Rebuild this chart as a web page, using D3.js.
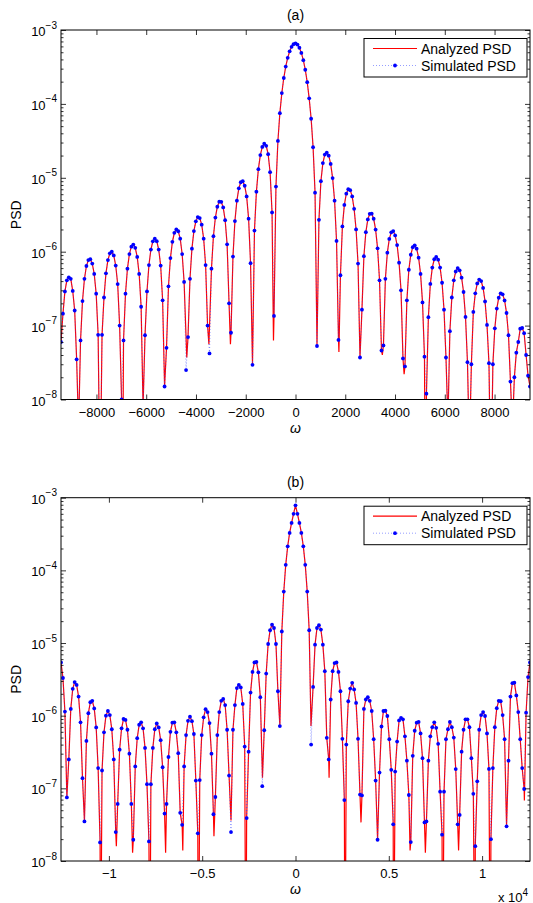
<!DOCTYPE html>
<html><head><meta charset="utf-8">
<script src="https://cdn.jsdelivr.net/npm/d3@7"></script>
<style>
body{margin:0;background:#fff}
svg{display:block}
text{font-family:'Liberation Sans',Arial,Helvetica,sans-serif;fill:#000}
</style>
</head><body>
<svg id="chart" width="533" height="903"></svg>
<script>
// ---------------- DATA ----------------
// sample index k runs from -120 to 120; omega = k * step
const halfRangeA = 3000 * Math.PI;          // panel (a) omega half-range
const halfRangeB = 4000 * Math.PI;          // panel (b) omega half-range
const samplesPerSide = 120;

// Simulated PSD, panel (a), k = -120 ... 120
const simulatedA = [
6e-8,1.45e-7,2.9e-7,4.1e-7,4.5e-7,4.3e-7,2.95e-7,1.6e-7,3.5e-8,4e-9,
6.3e-8,2.15e-7,4.3e-7,6.4e-7,7.7e-7,7.9e-7,6.9e-7,5.0e-7,2.7e-7,7.5e-8,
5e-10,7.5e-8,2.4e-7,5.1e-7,7.7e-7,9.5e-7,1.0e-6,8.9e-7,6.5e-7,3.65e-7,
1.0e-7,1.0e-8,6.3e-8,2.7e-7,5.9e-7,9.3e-7,1.17e-6,1.25e-6,1.13e-6,8.5e-7,
5.0e-7,1.8e-7,8e-9,7.4e-8,2.9e-7,6.6e-7,1.07e-6,1.38e-6,1.5e-6,1.39e-6,
1.07e-6,6.5e-7,2.2e-7,1.5e-8,5.0e-8,3.4e-7,8.2e-7,1.36e-6,1.8e-6,2.0e-6,
1.89e-6,1.5e-6,9.3e-7,3.9e-7,2.5e-8,7.0e-8,4.3e-7,1.1e-6,1.9e-6,2.58e-6,
2.94e-6,2.85e-6,2.32e-6,1.5e-6,6.6e-7,1.0e-7,4.2e-8,5.9e-7,1.62e-6,2.9e-6,
4.06e-6,4.75e-6,4.73e-6,3.97e-6,2.67e-6,1.26e-6,2.0e-7,8.0e-8,8.6e-7,2.6e-6,
4.9e-6,7.2e-6,8.7e-6,9.0e-6,7.8e-6,5.6e-6,2.8e-6,7.0e-7,2.95e-8,1.93e-6,
6.5e-6,1.31e-5,2.03e-5,2.62e-5,2.89e-5,2.71e-5,2.09e-5,1.19e-5,3.4e-6,1.35e-7,
7.6e-6,3.15e-5,7.5e-5,1.4e-4,2.24e-4,3.2e-4,4.2e-4,5.15e-4,5.92e-4,6.42e-4,
6.6e-4,
6.35e-4,5.75e-4,4.9e-4,3.9e-4,2.9e-4,1.97e-4,1.19e-4,6.3e-5,2.6e-5,6.3e-6,
5.3e-8,2.7e-6,9.0e-6,1.58e-5,2.06e-5,2.19e-5,1.99e-5,1.54e-5,9.9e-6,4.9e-6,
1.4e-6,6.4e-8,4.8e-7,2.2e-6,4.3e-6,6.1e-6,7.0e-6,6.8e-6,5.6e-6,3.8e-6,
2.0e-6,6.9e-7,3.7e-8,1.64e-7,8.7e-7,1.84e-6,2.73e-6,3.25e-6,3.27e-6,2.79e-6,
1.99e-6,1.11e-6,4.1e-7,4.6e-8,5.4e-8,4.3e-7,9.7e-7,1.49e-6,1.83e-6,1.9e-6,
1.66e-6,1.23e-6,7.1e-7,3.0e-7,3.6e-8,2.8e-8,2.2e-7,5.7e-7,9.1e-7,1.15e-6,
1.22e-6,1.1e-6,8.3e-7,5.0e-7,2.06e-7,3.8e-8,1.2e-8,1.3e-7,3.66e-7,6.1e-7,
7.9e-7,8.5e-7,7.8e-7,6.1e-7,3.8e-7,1.64e-7,3.7e-8,5e-9,8.4e-8,2.4e-7,
4.1e-7,5.4e-7,6.0e-7,5.6e-7,4.45e-7,2.85e-7,1.31e-7,3.2e-8,2e-9,3.0e-8,
1.53e-7,2.73e-7,3.72e-7,4.19e-7,4.0e-7,3.23e-7,2.12e-7,1.02e-7,3.1e-8,5e-10,
3.0e-8,9.2e-8,1.7e-7,2.38e-7,2.73e-7,2.65e-7,2.19e-7,1.48e-7,7.4e-8,1.75e-8,
4e-9,2.0e-8,4.3e-8,6.0e-8,9.1e-8,9.3e-8,7.9e-8,4.0e-8,2.1e-8,1.5e-8
];
// Analyzed PSD, panel (a): follows the samples, plus its null dips [omega, value]
const analyzedNullsA = [[-6960,1e-10],[-4370,3.7e-8],[-3480,5.6e-8],[-2615,5.6e-8],[-885,6.3e-8],
  [1745,4.4e-8],[3490,4.0e-8],[4365,2.2e-8],[5225,1e-10]];
// sample indices (k) where the simulated dot lies off the analyzed curve
const analyzedSkipA = [-56,-44];

// Simulated PSD, panel (b), k = -120 ... 120
const simulatedB = [
5.4e-6,3.3e-6,1.14e-6,7.5e-8,2.5e-7,1.24e-6,2.34e-6,2.9e-6,2.65e-6,1.83e-6,
8.1e-7,1.38e-7,3.5e-8,4.5e-7,1.08e-6,1.53e-6,1.6e-6,1.26e-6,6.9e-7,1.9e-7,
1.8e-8,1.76e-7,5.9e-7,1.0e-6,1.16e-6,1.02e-6,6.5e-7,2.5e-7,2.5e-8,6.1e-8,
3.4e-7,6.7e-7,9.0e-7,8.75e-7,6.4e-7,3.0e-7,6.1e-8,1.96e-8,2.0e-7,4.9e-7,
7.5e-7,8.1e-7,6.7e-7,3.6e-7,1.14e-7,1.86e-8,1.14e-7,3.6e-7,6.5e-7,7.8e-7,
6.9e-7,4.6e-7,1.95e-7,4.5e-8,6.1e-8,2.7e-7,6.0e-7,8.0e-7,8.1e-7,5.9e-7,
3.05e-7,4.6e-8,3.15e-8,2.0e-7,5.4e-7,8.5e-7,9.7e-7,8.4e-7,5.6e-7,1.28e-7,
2.4e-8,1.3e-7,5.4e-7,9.5e-7,1.23e-6,1.12e-6,7.9e-7,3.0e-7,4.4e-8,7.6e-8,
5.4e-7,1.12e-6,1.6e-6,1.7e-6,1.4e-6,6.4e-7,1.5e-7,2.5e-8,6.4e-7,1.4e-6,
2.4e-6,2.65e-6,2.45e-6,1.45e-6,3.76e-7,3.9e-8,3.2e-7,2.08e-6,4.0e-6,5.4e-6,
5.5e-6,3.95e-6,1.8e-6,1.07e-7,6.3e-7,3.8e-6,9.7e-6,1.5e-5,1.79e-5,1.61e-5,
9.7e-6,2.17e-6,7.2e-7,1.44e-5,5.1e-5,1.19e-4,2.14e-4,3.27e-4,4.49e-4,6.0e-4,
7.85e-4,
6.0e-4,4.49e-4,3.27e-4,2.14e-4,1.19e-4,5.1e-5,1.5e-5,4.0e-7,2.49e-6,9.5e-6,
1.61e-5,1.76e-5,1.53e-5,9.5e-6,4.1e-6,4.95e-7,2.5e-7,1.67e-6,4.1e-6,5.3e-6,
5.4e-6,4.0e-6,2.17e-6,4.8e-7,6.9e-8,4.0e-7,1.58e-6,2.36e-6,2.83e-6,2.3e-6,
1.5e-6,4.8e-7,8.2e-8,8.0e-8,1.24e-6,1.67e-6,1.8e-6,1.6e-6,1.16e-6,4.75e-7,
1.28e-7,1.96e-8,1.65e-7,7.1e-7,1.16e-6,1.17e-6,9.9e-7,4.75e-7,1.8e-7,3.2e-8,
1.7e-7,4.4e-7,8.6e-7,9.3e-7,8.9e-7,5.2e-7,2.4e-7,8.1e-8,1.82e-8,2.8e-7,
6.2e-7,8.0e-7,8.2e-7,5.7e-7,2.6e-7,3.4e-8,3.5e-8,2.4e-7,5.2e-7,6.95e-7,
8.1e-7,6.8e-7,4.1e-7,9.0e-8,2.3e-8,9.0e-8,4.75e-7,6.5e-7,8.2e-7,6.95e-7,
5.0e-7,1.84e-7,3.2e-8,4.3e-8,3.2e-7,6.4e-7,8.9e-7,8.9e-7,6.95e-7,2.6e-7,
8.4e-8,1.6e-8,1.25e-7,6.4e-7,1.02e-6,1.12e-6,9.9e-7,5.7e-7,1.85e-7,2.0e-8,
1.9e-7,6.95e-7,1.27e-6,1.6e-6,1.58e-6,1.02e-6,4.75e-7,3.0e-8,2.4e-7,1.83e-6,
2.8e-6,2.85e-6,1.9e-6,1.12e-6,4.75e-7,1.9e-7,9.8e-8,1.1e-6,3.4e-6,5.4e-6
];
const analyzedNullsB = [[-10450,1e-10],[-9600,1.6e-8],[-8730,1.3e-8],[-7810,1e-10],[-6960,1.3e-8],
  [-6040,1.4e-8],[-5200,1e-10],[-4370,2.2e-8],[-3456,3.6e-8],[-2660,1e-10],[-1770,1.4e-7],
  [830,7.2e-7],[1800,1.4e-7],[2650,1e-10],[3510,3.4e-8],[5250,1e-10],[6140,1.4e-8],
  [6960,1.3e-8],[7880,1e-10],[8740,1.4e-8],[9620,1e-10],[10440,1e-10],[12265,6.8e-8]];
const analyzedSkipB = [-33,-17,8];

// axis ticks / labels
const xTicksA = [-8000,-6000,-4000,-2000,0,2000,4000,6000,8000];
const xTickLabelsA = ["\u22128000","\u22126000","\u22124000","\u22122000","0","2000","4000","6000","8000"];
const xTicksB = [-10000,-5000,0,5000,10000];
const xTickLabelsB = ["\u22121","\u22120.5","0","0.5","1"];
const yDecades = [-8,-7,-6,-5,-4,-3];
const titles = ["(a)","(b)"];
const legendLabels = ["Analyzed PSD","Simulated PSD"];
const yLabel = "PSD";
const xLabel = "\u03c9";

// ---------------- LAYOUT ----------------
const layout = [
  {top:30, bottom:399.5, titleY:19.5},
  {top:497.7, bottom:861, titleY:487}
];
const L = 61, R = 530;
const svg = d3.select("#chart");

function buildPanel(pi, halfRange, sim, nulls, skip, xTicks, xTickLabels, showMult){
  const lay = layout[pi];
  const step = halfRange / samplesPerSide;
  const x = d3.scaleLinear().domain([-halfRange, halfRange]).range([L, R]);
  const y = d3.scaleLog().domain([1e-8, 1e-3]).range([lay.bottom, lay.top]);
  const g = svg.append("g");
  const clipId = "clip" + pi;
  svg.append("clipPath").attr("id", clipId).append("rect")
    .attr("x", L).attr("y", lay.top).attr("width", R - L).attr("height", lay.bottom - lay.top);

  const pts = sim.map((v, i) => ({k: i - samplesPerSide, w: (i - samplesPerSide) * step, v}));
  const redPts = pts.filter(p => !skip.includes(p.k)).map(p => [p.w, p.v])
    .concat(nulls.map(n => [n[0], n[1]])).sort((a, b) => a[0] - b[0]);
  const line = d3.line().x(d => x(d[0])).y(d => y(Math.max(d[1], 1e-14)));

  const plot = g.append("g").attr("clip-path", `url(#${clipId})`);
  plot.append("path").datum(redPts).attr("d", line)
    .attr("fill", "none").attr("stroke", "#ff0000").attr("stroke-width", 1.2);
  plot.append("path").datum(pts.map(p => [p.w, p.v])).attr("d", line)
    .attr("fill", "none").attr("stroke", "#3344ff").attr("stroke-opacity", 0.75)
    .attr("stroke-width", 0.7).attr("stroke-dasharray", "1,2");
  plot.selectAll("circle").data(pts).enter().append("circle")
    .attr("cx", d => x(d.w)).attr("cy", d => y(Math.max(d.v, 1e-14))).attr("r", 1.9)
    .attr("fill", "#0000ff");

  // axes ticks
  const bottomAx = g.append("g").attr("transform", `translate(0,${lay.bottom})`)
    .call(d3.axisBottom(x).tickValues(xTicks).tickSize(-5).tickPadding(8)
      .tickFormat((d, i) => xTickLabels[i]));
  const topAx = g.append("g").attr("transform", `translate(0,${lay.top})`)
    .call(d3.axisTop(x).tickValues(xTicks).tickSize(-5).tickFormat(""));
  const majors = yDecades.map(e => Math.pow(10, e));
  const minors = [];
  yDecades.slice(0, -1).forEach(e => { for (let m = 2; m <= 9; m++) minors.push(m * Math.pow(10, e)); });
  const leftMaj = g.append("g").attr("transform", `translate(${L},0)`)
    .call(d3.axisLeft(y).tickValues(majors).tickSize(-5).tickFormat(""));
  const leftMin = g.append("g").attr("transform", `translate(${L},0)`)
    .call(d3.axisLeft(y).tickValues(minors).tickSize(-2.5).tickFormat(""));
  const rightMaj = g.append("g").attr("transform", `translate(${R},0)`)
    .call(d3.axisRight(y).tickValues(majors).tickSize(-5).tickFormat(""));
  const rightMin = g.append("g").attr("transform", `translate(${R},0)`)
    .call(d3.axisRight(y).tickValues(minors).tickSize(-2.5).tickFormat(""));
  [bottomAx, topAx, leftMaj, leftMin, rightMaj, rightMin].forEach(a => {
    a.select(".domain").remove();
    a.selectAll(".tick line").attr("stroke", "#000").attr("stroke-width", 0.8);
    a.selectAll("text").style("font-family", "'Liberation Sans',Arial,sans-serif")
      .attr("font-size", 13).attr("fill", "#000");
  });

  // y tick labels 10^e
  majors.forEach((v, i) => {
    const t = g.append("text").attr("x", 57).attr("y", y(v) + 6)
      .attr("text-anchor", "end").attr("font-size", 13);
    t.append("tspan").text("10");
    t.append("tspan").attr("dy", -7.5).attr("font-size", 10).text("\u2212" + Math.abs(yDecades[i]));
  });

  // frame
  g.append("rect").attr("x", L).attr("y", lay.top).attr("width", R - L)
    .attr("height", lay.bottom - lay.top).attr("fill", "none")
    .attr("stroke", "#000").attr("stroke-width", 1);

  // title & labels
  g.append("text").attr("x", (L + R) / 2).attr("y", lay.titleY).attr("text-anchor", "middle")
    .attr("font-size", 14).text(titles[pi]);
  g.append("text").attr("transform", `translate(20.5,${(lay.top + lay.bottom) / 2}) rotate(-90)`)
    .attr("text-anchor", "middle").attr("font-size", 14).text(yLabel);
  g.append("text").attr("x", x(0)).attr("y", lay.bottom + 33).attr("text-anchor", "middle")
    .attr("font-size", 14).attr("font-style", "italic").text(xLabel);
  if (showMult) {
    const t = g.append("text").attr("x", 498).attr("y", 901.5).attr("font-size", 13);
    t.append("tspan").text("x 10");
    t.append("tspan").attr("dy", -6).attr("font-size", 10).text("4");
  }

  // legend
  const lt = lay.top + 8.5;
  const lg = g.append("g");
  lg.append("rect").attr("x", 364).attr("y", lt).attr("width", 163).attr("height", 38.5)
    .attr("fill", "#fff").attr("stroke", "#000").attr("stroke-width", 1);
  const y1 = lt + 10, y2 = lt + 27;
  lg.append("line").attr("x1", 373).attr("x2", 417).attr("y1", y1).attr("y2", y1)
    .attr("stroke", "#ff0000").attr("stroke-width", 1.2);
  lg.append("line").attr("x1", 373).attr("x2", 417).attr("y1", y2).attr("y2", y2)
    .attr("stroke", "#3344ff").attr("stroke-opacity", 0.75).attr("stroke-width", 0.7)
    .attr("stroke-dasharray", "1,2");
  lg.append("circle").attr("cx", 395).attr("cy", y2).attr("r", 1.9).attr("fill", "#0000ff");
  lg.append("text").attr("x", 421).attr("y", y1 + 5).attr("font-size", 14).text(legendLabels[0]);
  lg.append("text").attr("x", 421).attr("y", y2 + 5).attr("font-size", 14).text(legendLabels[1]);
}

buildPanel(0, halfRangeA, simulatedA, analyzedNullsA, analyzedSkipA, xTicksA, xTickLabelsA, false);
buildPanel(1, halfRangeB, simulatedB, analyzedNullsB, analyzedSkipB, xTicksB, xTickLabelsB, true);
</script>
</body></html>
